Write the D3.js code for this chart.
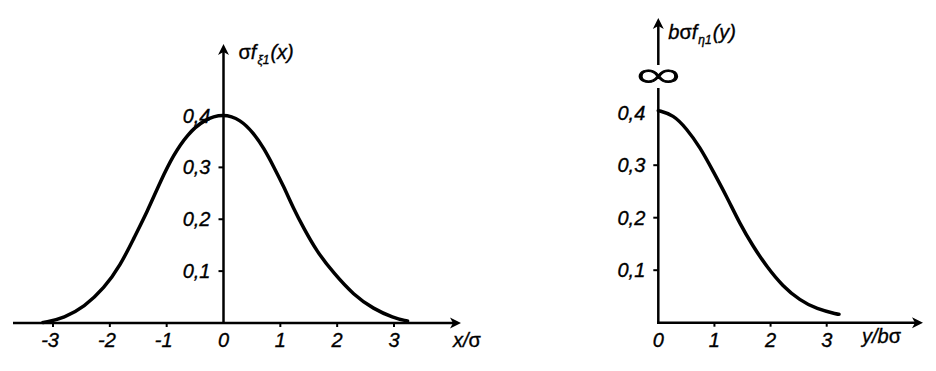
<!DOCTYPE html>
<html><head><meta charset="utf-8">
<script src="https://cdn.jsdelivr.net/npm/d3@7"></script>
<style>
html,body{margin:0;padding:0;background:#fff;}
svg text{font-family:"Liberation Sans",Arial,sans-serif;font-style:italic;fill:#000;stroke:#000;stroke-width:0.35px;}
</style></head>
<body>
<svg id="c" width="936" height="371"></svg>
<script>
// ---- data ----
const leftX = [-3.18,-3.15,-2.80,-2.45,-2.10,-1.81,-1.58,-1.34,-1.11,-0.88,-0.64,-0.35,0,0.30,0.53,0.71,0.88,1.06,1.23,1.41,1.64,1.94,2.29,2.64,2.99,3.22,3.24];
const leftY = [0.001,0.001,0.010,0.031,0.067,0.112,0.163,0.215,0.273,0.324,0.363,0.392,0.404,0.392,0.366,0.337,0.302,0.263,0.221,0.183,0.138,0.096,0.054,0.027,0.010,0.004,0.004];
const rightX = [0,0,0.27,0.50,0.74,0.98,1.22,1.45,1.69,1.93,2.22,2.52,2.82,3.20,3.22];
const rightY = [0.404,0.404,0.396,0.370,0.335,0.288,0.240,0.189,0.145,0.107,0.069,0.043,0.026,0.016,0.016];
const leftXTicks = [-3,-2,-1,0,1,2,3];
const rightXTicks = [0,1,2,3];
const yTicks = [0.1,0.2,0.3,0.4];
const yTickLabels = ["0,1","0,2","0,3","0,4"];

const svg = d3.select("#c");
const FS = 20;

function arrow(g, x, y, dir){
  const p = dir==="right"
    ? `M${x},${y} L${x-11},${y-5.5} L${x-8},${y} L${x-11},${y+5.5} Z`
    : `M${x},${y} L${x-5.5},${y+11} L${x},${y+8} L${x+5.5},${y+11} Z`;
  g.append("path").attr("d",p).attr("fill","#000");
}

function panel(cfg){
  const g = svg.append("g");
  const x = d3.scaleLinear().domain(cfg.xDomain).range(cfg.xRange);
  const y = d3.scaleLinear().domain([0,0.4]).range(cfg.yRange);
  const x0 = x(0), y0 = y(0);
  g.append("line").attr("x1",cfg.xAxisStart).attr("x2",cfg.xAxisEnd-4).attr("y1",y0).attr("y2",y0)
    .attr("stroke","#000").attr("stroke-width",2.5);
  arrow(g, cfg.xAxisEnd, y0, "right");
  if(cfg.infinity){
    g.append("line").attr("x1",x0).attr("x2",x0).attr("y1",y0+1).attr("y2",cfg.yBreakLow)
      .attr("stroke","#000").attr("stroke-width",2.5);
    g.append("line").attr("x1",x0).attr("x2",x0).attr("y1",cfg.yBreakHigh).attr("y2",cfg.yAxisTop+4)
      .attr("stroke","#000").attr("stroke-width",2.5);
    g.append("text").text("∞").attr("x",x0).attr("y",cfg.infY)
      .attr("text-anchor","middle").style("font-style","normal")
      .style("font-family","'Open Sans','Noto Sans',sans-serif").style("font-weight","300").attr("font-size",40)
      .style("stroke-width","0.9px")
      .attr("transform",`translate(${x0},${cfg.infY}) scale(1.6,1.05) translate(${-x0},${-cfg.infY})`);
  } else {
    g.append("line").attr("x1",x0).attr("x2",x0).attr("y1",y0+1).attr("y2",cfg.yAxisTop+4)
      .attr("stroke","#000").attr("stroke-width",2.5);
  }
  arrow(g, x0, cfg.yAxisTop, "up");
  g.selectAll(".xt").data(cfg.xTicks.filter(d=>d!==0)).enter().append("line")
    .attr("x1",d=>x(d)).attr("x2",d=>x(d)).attr("y1",y0).attr("y2",y0+4)
    .attr("stroke","#000").attr("stroke-width",2);
  g.selectAll(".xl").data(cfg.xTicks).enter().append("text")
    .attr("x",d=> d<0 ? x(d)+6 : x(d))
    .attr("y",y0+24)
    .attr("text-anchor",d=> d<0 ? "end" : "middle")
    .attr("font-size",FS)
    .text(d=> d<0 ? "-"+Math.abs(d) : String(d));
  g.selectAll(".yt").data(yTicks.slice(0,3)).enter().append("line")
    .attr("x1",x0-5).attr("x2",x0).attr("y1",d=>y(d)).attr("y2",d=>y(d))
    .attr("stroke","#000").attr("stroke-width",2);
  g.selectAll(".yl").data(yTicks).enter().append("text")
    .attr("x",x0-13).attr("y",d=>y(d)+7)
    .attr("text-anchor","end").attr("font-size",FS)
    .text((d,i)=>yTickLabels[i]);
  const pts = cfg.xs.map((v,i)=>[v,cfg.ys[i]]);
  g.append("path").datum(pts)
    .attr("d", d3.line().x(d=>x(d[0])).y(d=>y(d[1])).curve(d3.curveBasis))
    .attr("fill","none").attr("stroke","#000").attr("stroke-width",3.5).attr("stroke-linecap","round");
  const xl = g.append("text").attr("x",cfg.xLabelX).attr("y",y0+cfg.xLabelDy).attr("font-size",FS);
  cfg.xLabel.forEach(p=>{ const t = xl.append("tspan").text(p.t); if(p.up) t.style("font-style","normal"); });
  const yl = g.append("text").attr("x",x0+cfg.yLabelDx).attr("y",cfg.yLabelY).attr("font-size",FS);
  cfg.yLabel.forEach(p=>{
    const t = yl.append("tspan").text(p.t);
    if(p.up) t.style("font-style","normal");
    if(p.sub) t.attr("font-size",12).attr("dy",5).attr("dx",1);
    if(p.back) t.attr("dy",-5).attr("dx",1);
  });
  return g;
}

panel({
  xDomain:[-3,3], xRange:[53,394], yRange:[323,115.5],
  xAxisStart:13, xAxisEnd:461, yAxisTop:44,
  xTicks:leftXTicks, xs:leftX, ys:leftY,
  xLabel:[{t:"x/"},{t:"σ",up:true}], xLabelX:453, xLabelDy:24,
  yLabel:[{t:"σ",up:true},{t:"f"},{t:"ξ1",sub:true},{t:"(x)",back:true}], yLabelDx:15, yLabelY:59
});

panel({
  xDomain:[0,3], xRange:[658.3,826.7], yRange:[322.7,112.7],
  xAxisStart:657, xAxisEnd:923, yAxisTop:18,
  infinity:true, yBreakLow:88, yBreakHigh:65, infY:91,
  xTicks:rightXTicks, xs:rightX, ys:rightY,
  xLabel:[{t:"y/b"},{t:"σ",up:true}], xLabelX:862, xLabelDy:20,
  yLabel:[{t:"b"},{t:"σ",up:true},{t:"f"},{t:"η1",sub:true},{t:"(y)",back:true}], yLabelDx:10, yLabelY:39
});
</script>
</body></html>
